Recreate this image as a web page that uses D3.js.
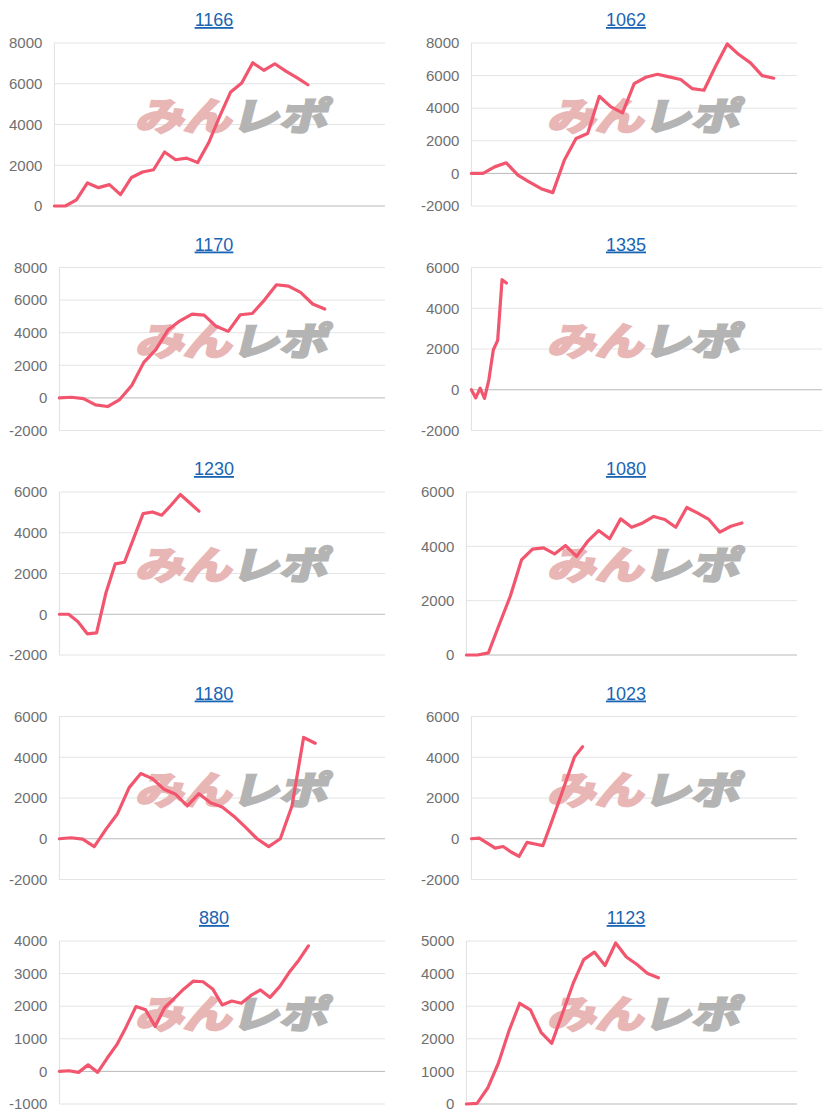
<!DOCTYPE html>
<html>
<head>
<meta charset="utf-8">
<title>みんレポ グラフ</title>
<script src="https://cdn.jsdelivr.net/npm/d3@7"></script>
<style>
    body { margin: 0; background: #fff; }
    svg { display: block; font-family: "Liberation Sans", Arial, sans-serif; }
    .tick-label { font-size: 15px; fill: #6f6f6f; }
    .title { font-size: 18px; fill: #1a64b4; text-decoration: underline; }
    .line { fill: none; stroke: #f2566f; stroke-width: 3.2px; stroke-linejoin: round; stroke-linecap: round; }
    .wm { font-family: "Noto Sans CJK JP", sans-serif; font-weight: 700; font-size: 40px; stroke-width: 3px; stroke-linejoin: miter; }
</style>
</head>
<body>
<svg id="chart" width="824" height="1120"></svg>
<script>
// chart titles (machine numbers)
var titles = ["1166", "1062", "1170", "1335", "1230", "1080", "1180", "1023", "880", "1123"];

// values
var s1166 = [0, 0, 300, 1130, 900, 1050, 560, 1400, 1670, 1780, 2650, 2270, 2350, 2130, 3100, 4400, 5600, 6040, 7030, 6660, 6980, 6620, 6300, 5950];
var s1062 = [0, 0, 400, 650, -100, -530, -940, -1180, 820, 2140, 2450, 4730, 4080, 3710, 5510, 5900, 6080, 5920, 5760, 5200, 5100, 6570, 7940, 7290, 6780, 6000, 5840];
var s1170 = [0, 40, -40, -430, -530, -100, 760, 2180, 2960, 4160, 4730, 5140, 5080, 4390, 4080, 5100, 5180, 6000, 6940, 6860, 6470, 5760, 5450];
var s1335 = [0, -400, 80, -420, 500, 1950, 2420, 5400, 5240];
var s1230 = [0, 0, -370, -960, -910, 1040, 2470, 2550, 3750, 4940, 5020, 4860, 5350, 5880, 5470, 5060];
var s1080 = [0, 0, 80, 1140, 2180, 3500, 3900, 3940, 3720, 4030, 3630, 4180, 4580, 4280, 5010, 4700, 4860, 5100, 4990, 4700, 5430, 5220, 4990, 4520, 4740, 4860];
var s1180 = [0, 50, -20, -390, 460, 1230, 2510, 3200, 2950, 2430, 2180, 1610, 2210, 1770, 1560, 1110, 570, 0, -390, 0, 1610, 4970, 4690];
var s1023 = [0, 30, -210, -460, -380, -650, -870, -180, -260, -340, 720, 1810, 2920, 4030, 4520];
var s880 = [0, 20, -30, 200, -30, 410, 820, 1380, 1990, 1890, 1380, 1960, 2240, 2530, 2770, 2750, 2530, 2040, 2160, 2090, 2330, 2500, 2270, 2600, 3040, 3410, 3850];
var s1123 = [0, 20, 490, 1250, 2250, 3090, 2890, 2200, 1860, 2770, 3690, 4430, 4660, 4250, 4940, 4510, 4280, 4000, 3870];

var series = [s1166, s1062, s1170, s1335, s1230, s1080, s1180, s1023, s880, s1123];

// y axis ranges and tick steps
var yMin = [0, -2000, -2000, -2000, -2000, 0, -2000, -2000, -1000, 0];
var yMax = [8000, 8000, 8000, 6000, 6000, 6000, 6000, 6000, 4000, 5000];
var yStep = [2000, 2000, 2000, 2000, 2000, 2000, 2000, 2000, 1000, 1000];

// number of x slots on each chart
var xSlots = [30, 28, 27, 80, 35, 30, 28, 41, 34, 31];

var svg = d3.select("#chart");
svg.append("rect").attr("width", 824).attr("height", 1120).attr("fill", "#fff");

var colW = 412, rowH = 224.5;

titles.forEach(function (title, i) {
    var col = i % 2, row = Math.floor(i / 2);
    var colX = col * colW, rowTop = row * rowH;
    var g = svg.append("g");

    var ticks = d3.range(yMin[i], yMax[i] + 1, yStep[i]);

    // measure tick label width to place the axis
    var tmp = g.append("text").attr("class", "tick-label").text(ticks[0] < 0 ? ticks[0] : ticks[ticks.length - 1]);
    var labelW = tmp.node().getComputedTextLength();
    tmp.remove();

    var left = colX + 9 + labelW + 12;
    var right = (i === 3) ? 822 : colX + 385;
    var top = rowTop + 43, bottom = rowTop + 206;

    var y = d3.scaleLinear().domain([yMin[i], yMax[i]]).range([bottom, top]);
    var x = d3.scaleLinear().domain([0, xSlots[i]]).range([left, right]);

    // gridlines
    g.selectAll(".grid").data(ticks).enter().append("line")
        .attr("x1", left).attr("x2", right)
        .attr("y1", d => y(d)).attr("y2", d => y(d))
        .attr("stroke", d => d === 0 ? "#b9b9b9" : "#e4e4e4")
        .attr("stroke-width", 1);

    // vertical axis line
    g.append("line")
        .attr("x1", left).attr("x2", left)
        .attr("y1", top).attr("y2", bottom)
        .attr("stroke", "#e0e0e0");

    // tick labels
    g.selectAll(".tick-label").data(ticks).enter().append("text")
        .attr("class", "tick-label")
        .attr("x", left - 12)
        .attr("y", d => y(d))
        .attr("dy", "0.35em")
        .attr("text-anchor", "end")
        .text(d => d);

    // watermark
    var wm = g.append("text")
        .attr("class", "wm")
        .attr("text-anchor", "middle")
        .attr("dominant-baseline", "central")
        .attr("transform", "translate(" + (colX + 235) + "," + (rowTop + 114) + ") skewX(-14) scale(1.2,0.95)");
    wm.append("tspan").attr("fill", "#e9b6b6").attr("stroke", "#e9b6b6").text("みん");
    wm.append("tspan").attr("fill", "#b4b4b4").attr("stroke", "#b4b4b4").text("レポ");

    // data line
    var line = d3.line().x((d, k) => x(k)).y(d => y(d));
    g.append("path").datum(series[i]).attr("class", "line").attr("d", line);

    // title
    g.append("text")
        .attr("class", "title")
        .attr("x", colX + 214)
        .attr("y", rowTop + 26)
        .attr("text-anchor", "middle")
        .text(title);
});
</script>
</body>
</html>
